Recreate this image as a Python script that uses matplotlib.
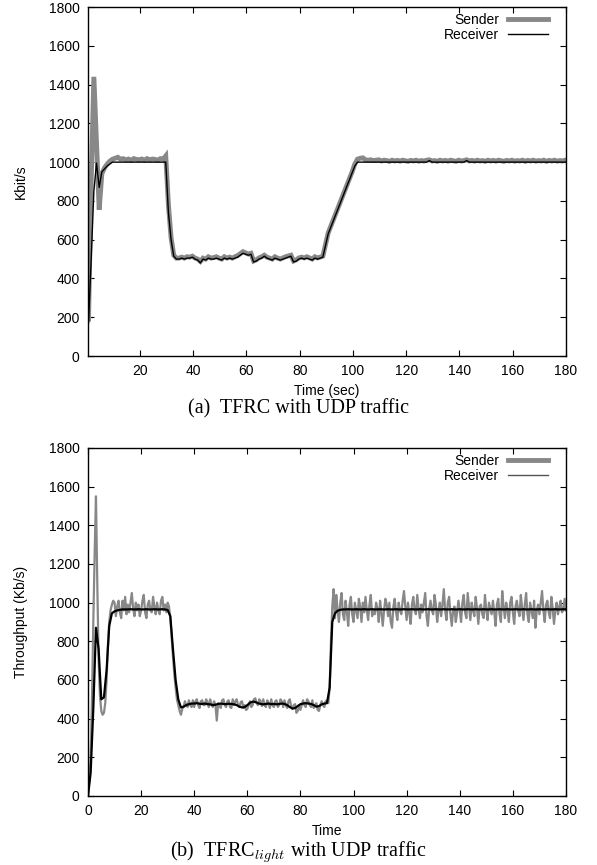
import numpy as np
import matplotlib
matplotlib.use('Agg')
import matplotlib.pyplot as plt
from matplotlib.lines import Line2D

plt.rcParams['font.family'] = ['Liberation Sans', 'DejaVu Sans']
plt.rcParams['mathtext.fontset'] = 'cm'

# (a) TFRC, samples every second starting at 0.7 s
time_a = 0.7 + np.arange(181)
sender_a = [
    190, 900, 1440, 1100, 755, 940, 970, 990, 1005, 1015,
    1020, 1025, 1015, 1018, 1012, 1016, 1010, 1018, 1014, 1012,
    1016, 1010, 1018, 1012, 1016, 1014, 1010, 1018, 1015, 1032,
    780, 610, 520, 505, 505, 510, 505, 512, 510, 515,
    505, 500, 488, 505, 500, 512, 505, 508, 512, 505,
    500, 512, 505, 510, 505, 512, 518, 528, 538, 532,
    526, 530, 490, 496, 506, 512, 520, 510, 505, 500,
    512, 505, 500, 506, 512, 516, 520, 490, 496, 506,
    510, 506, 512, 506, 500, 512, 506, 510, 515, 575,
    635, 670, 705, 740, 775, 810, 845, 880, 915, 950,
    990, 1015, 1020, 1022, 1012, 1010, 1012, 1008, 1010, 1012,
    1006, 1010, 1008, 1004, 1010, 1006, 1009, 1005, 1010, 1007,
    1004, 1009, 1006, 1010, 1005, 1008, 1006, 1010, 1012, 1006,
    1008, 1004, 1010, 1006, 1009, 1005, 1010, 1007, 1004, 1010,
    1006, 1008, 1012, 1006, 1009, 1005, 1010, 1006, 1008, 1004,
    1010, 1006, 1009, 1005, 1010, 1007, 1004, 1009, 1006, 1010,
    1005, 1008, 1006, 1010, 1004, 1009, 1006, 1010, 1005, 1008,
    1006, 1010, 1004, 1009, 1006, 1010, 1005, 1008, 1006, 1010,
    1007,
]
receiver_a = [
    170, 500, 850, 995, 870, 950, 965, 980, 990, 1000,
    1000, 1000, 1000, 1000, 1000, 1000, 1000, 1000, 1000, 1000,
    1000, 1000, 1000, 1000, 1000, 1000, 1000, 1000, 1000, 1000,
    740, 600, 515, 500, 500, 505, 500, 505, 505, 510,
    500, 495, 480, 500, 495, 505, 500, 500, 505, 500,
    495, 505, 500, 505, 500, 505, 510, 520, 530, 525,
    520, 525, 485, 490, 500, 505, 515, 505, 500, 495,
    505, 500, 495, 500, 505, 510, 515, 485, 490, 500,
    505, 500, 505, 500, 495, 505, 500, 505, 510, 570,
    630, 665, 700, 735, 770, 805, 840, 875, 910, 945,
    980, 1000, 1000, 1000, 1000, 1000, 1000, 1000, 1000, 1000,
    1000, 1000, 1000, 1000, 1000, 1000, 1000, 1000, 1000, 1000,
    1000, 1000, 1000, 1000, 1000, 1000, 1000, 1000, 1008, 1000,
    1000, 1000, 1000, 1000, 1000, 1000, 1000, 1000, 1000, 1000,
    1000, 1000, 1008, 1000, 1000, 1000, 1000, 1000, 1000, 1000,
    1000, 1000, 1000, 1000, 1000, 1000, 1000, 1000, 1000, 1000,
    1000, 1000, 1000, 1000, 1000, 1000, 1000, 1000, 1000, 1000,
    1000, 1000, 1000, 1000, 1000, 1000, 1000, 1000, 1000, 1000,
    1000,
]

# (b) TFRC light: sender every 0.5 s, receiver every 1 s
time_sb = 0.5 * np.arange(361)
sender_b = [
    # 0 - 9.5 s
    0, 80, 200, 500, 900, 1250, 1550, 1100, 700, 520,
    440, 420, 430, 480, 600, 780, 900, 960, 990, 1010,
    # 10 - 29.5 s
    1000, 930, 980, 1010, 950, 920, 1010, 960, 1030, 940,
    990, 950, 1000, 1050, 970, 930, 1000, 960, 990, 930,
    960, 1010, 1040, 950, 920, 990, 1010, 960, 950, 1030,
    980, 940, 1000, 960, 940, 1010, 1030, 960, 990, 950,
    # 30 - 39.5 s
    1000, 980, 920, 820, 720, 630, 560, 500, 470, 440,
    420, 450, 460, 490, 470, 460, 495, 470, 460, 495,
    # 40 - 89.5 s
    460, 490, 500, 470, 455, 490, 495, 470, 470, 500,
    485, 460, 500, 475, 460, 490, 470, 390, 480, 470,
    455, 495, 500, 470, 460, 490, 495, 460, 455, 500,
    470, 490, 500, 470, 460, 485, 490, 455, 470, 445,
    450, 470, 490, 460, 470, 500, 505, 480, 470, 500,
    490, 465, 500, 470, 460, 495, 480, 455, 500, 470,
    460, 490, 495, 460, 470, 500, 490, 460, 495, 470,
    455, 490, 500, 465, 450, 470, 475, 430, 440, 470,
    445, 470, 495, 470, 460, 500, 490, 470, 460, 495,
    455, 470, 480, 445, 440, 470, 490, 470, 460, 490,
    # 90 - 92.5 s
    495, 480, 560, 800, 980, 1070,
    # 93 - 180 s
    920, 1040, 960, 900, 1000, 1050, 940, 910, 1010, 950,
    880, 990, 1030, 940, 900, 1000, 960, 920, 1020, 980,
    900, 1000, 950, 1030, 960, 910, 990, 1040, 930, 960,
    940, 1000, 970, 900, 1010, 950, 880, 960, 1020, 990,
    930, 1000, 900, 870, 980, 1020, 950, 910, 1000, 960,
    940, 1010, 1060, 980, 910, 1000, 950, 890, 990, 1030,
    960, 940, 1040, 970, 920, 990, 950, 1000, 1050, 930,
    880, 970, 1010, 960, 940, 1040, 990, 900, 960, 1000,
    930, 990, 1070, 960, 910, 1000, 1030, 940, 880, 960,
    980, 900, 950, 1010, 960, 900, 1000, 1040, 950, 920,
    1050, 980, 910, 1000, 960, 930, 1030, 970, 890, 980,
    990, 940, 920, 1040, 960, 910, 1000, 970, 940, 1010,
    950, 880, 990, 1020, 940, 900, 1060, 980, 920, 1000,
    960, 900, 1000, 1030, 950, 890, 980, 1010, 960, 930,
    1040, 970, 910, 990, 1050, 940, 900, 1000, 960, 920,
    1010, 870, 960, 990, 940, 1000, 1060, 960, 900, 990,
    1010, 950, 920, 1030, 970, 890, 960, 1000, 940, 980,
    1010, 950, 960, 1020, 960,
]
time_rb = np.arange(181)
receiver_b = [
    0, 120, 450, 870, 760, 500, 510, 650, 880, 945,
    955, 960, 963, 965, 965, 965, 966, 965, 965, 966,
    965, 965, 966, 965, 965, 966, 965, 965, 966, 965,
    962, 930, 760, 600, 500, 458, 462, 470, 475, 478,
    478, 480, 477, 476, 478, 475, 474, 470, 472, 476,
    478, 476, 475, 477, 476, 474, 470, 462, 458, 460,
    470, 482, 488, 486, 480, 476, 474, 476, 478, 475,
    476, 474, 476, 478, 476, 470, 460, 452, 455, 465,
    475, 478, 480, 478, 476, 470, 462, 465, 474, 478,
    480, 560, 900, 945, 958, 963, 965, 965, 966, 965,
    965, 966, 965, 965, 966, 965, 965, 966, 965, 965,
    966, 965, 965, 966, 965, 965, 966, 965, 965, 966,
    965, 965, 966, 965, 965, 966, 965, 965, 966, 965,
    965, 966, 965, 965, 966, 965, 965, 966, 965, 965,
    966, 965, 965, 966, 965, 965, 966, 965, 965, 966,
    965, 965, 966, 965, 965, 966, 965, 965, 966, 965,
    965, 966, 965, 965, 966, 965, 965, 966, 965, 965,
    966, 965, 965, 966, 965, 965, 966, 965, 965, 966,
    965,
]

x_ticks_a = [20, 40, 60, 80, 100, 120, 140, 160, 180]
x_ticks_b = [0, 20, 40, 60, 80, 100, 120, 140, 160, 180]
y_ticks = [0, 200, 400, 600, 800, 1000, 1200, 1400, 1600, 1800]

gray = '#888888'

fig = plt.figure(figsize=(5.97, 8.65), dpi=100)
ax1 = fig.add_axes([0.1474, 0.5884, 0.8006, 0.4035])
ax2 = fig.add_axes([0.1474, 0.0798, 0.8006, 0.4023])

# top panel
ax1.plot(time_a, sender_a, color=gray, lw=3.5, solid_joinstyle='miter')
ax1.plot(time_a, receiver_a, color='black', lw=1.0)
ax1.set_xlim(0.5, 180)
ax1.set_xticks(x_ticks_a)

# bottom panel
ax2.plot(time_sb, sender_b, color=gray, lw=1.6)
ax2.plot(time_rb, receiver_b, color='black', lw=1.6)
ax2.set_xlim(0, 180)
ax2.set_xticks(x_ticks_b)

for ax, ylab, xlab in [(ax1, 'Kbit/s', 'Time (sec)'), (ax2, 'Throughput (Kb/s)', 'Time')]:
    ax.set_ylim(0, 1800)
    ax.set_yticks(y_ticks)
    ax.tick_params(direction='in', length=4, width=0.8, top=True, right=True,
                   labelsize=10, pad=6, colors='black')
    for s in ax.spines.values():
        s.set_linewidth(1.0)
    ax.set_ylabel(ylab, fontsize=10)
    ax.yaxis.set_label_coords(-0.125, 0.5)
    ax.set_xlabel(xlab, fontsize=10)
    ax.xaxis.set_label_coords(0.5, -0.08)
    handles = [Line2D([], [], color=gray, lw=3.5),
               Line2D([], [], color='black' if ax is ax1 else '#555555', lw=1.0)]
    ax.legend(handles, ['Sender', 'Receiver'], loc='upper right', markerfirst=False,
              frameon=False, fontsize=10, handlelength=2.9, handletextpad=0.6,
              labelspacing=0.05, borderpad=0, borderaxespad=0,
              bbox_to_anchor=(0.962, 0.982))

fig.text(0.5, 1 - 409 / 865, '(a)  TFRC with UDP traffic', family='Liberation Serif',
         fontsize=14.5, ha='center', va='center')
fig.text(0.5, 1 - 852 / 865, r'(b)  TFRC$_{light}$ with UDP traffic', family='Liberation Serif',
         fontsize=14.5, ha='center', va='center')

fig.savefig('out.png', dpi=100)
